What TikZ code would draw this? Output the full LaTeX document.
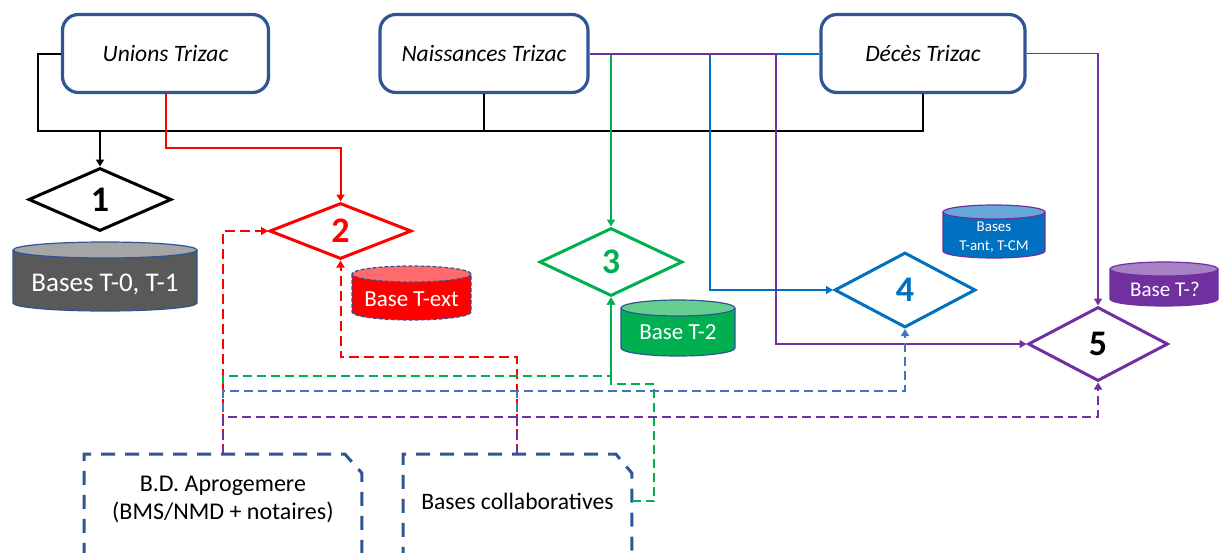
\documentclass[tikz,border=0pt]{standalone}
\usepackage{fontspec}
\setmainfont{Carlito}
\usetikzlibrary{arrows.meta,shapes.geometric}
\definecolor{boxblue}{HTML}{2F5597}
\definecolor{cgreen}{HTML}{00B050}
\definecolor{cblue}{HTML}{0070C0}
\definecolor{cblued}{HTML}{4472C4}
\definecolor{cpurple}{HTML}{7030A0}
\definecolor{cred}{HTML}{FF0000}
\definecolor{cgray}{HTML}{595959}
\definecolor{cgraytop}{HTML}{A5A5A5}
\definecolor{credtop}{HTML}{FF6B6B}
\definecolor{cgreentop}{HTML}{66CF8F}
\definecolor{cbluetop}{HTML}{66A8DA}
\definecolor{cpurpletop}{HTML}{A783C6}
\tikzset{
  topbox/.style={draw=boxblue, line width=1.6pt, rounded corners=8pt, fill=white,
    minimum height=39pt, font=\fontsize{11.75}{14}\selectfont\itshape},
  dia/.style={diamond, draw, line width=1.5pt, inner sep=0pt, fill=white,
    font=\fontsize{18}{20}\selectfont\bfseries},
  conn/.style={line width=1pt},
  tip/.style={-{Triangle[length=3.5pt,width=4pt]}},
  dsh/.style={line width=1pt, dash pattern=on 4.5pt off 2.5pt},
  cyltxt/.style={text=white, inner sep=0pt},
  bdash/.style={draw=boxblue, line width=1.5pt, dash pattern=on 7pt off 5pt},
  btxt/.style={inner sep=0pt, align=center, anchor=north west, font=\fontsize{12}{14}\selectfont}
}
\newcommand{\dbcyl}[8]{%
  \pgfmathsetmacro\cylrx{(#3-#1)/4}%
  \pgfmathsetmacro\cylry{#5/2}%
  \path[fill=#6,#8] (#1,#2+#5) -- (#1,#4-#5) arc[start angle=180,end angle=360,x radius=\cylrx pt,y radius=\cylry pt] -- (#3,#2+#5);
  \path[fill=#7,#8] ({(#1+#3)/2},#2+#5) ellipse[x radius=\cylrx pt,y radius=\cylry pt];
}
\begin{document}
\begin{tikzpicture}[x=0.5pt,y=-0.5pt]
\useasboundingbox (0,0) rectangle (1220,552);
\clip (0,0) rectangle (1220,552);

% top boxes
\node[topbox, minimum width=103pt] (unions) at (165.5,53.5) {Unions Trizac};
\node[topbox, minimum width=104pt] (naiss) at (484,53.5) {Naissances Trizac};
\node[topbox, minimum width=102pt] (deces) at (923,53.5) {Décès Trizac};

% diamonds
\node[dia, minimum width=71.5pt, minimum height=31.5pt] (d1) at (100,199.5) {1};
\node[dia, draw=cred, text=cred, minimum width=71pt, minimum height=28pt] (d2) at (340.5,231) {2};
\node[dia, draw=cgreen, text=cgreen, minimum width=71.5pt, minimum height=34pt] (d3) at (611,262) {3};
\node[dia, draw=cblue, text=cblue, minimum width=70.5pt, minimum height=37.5pt] (d4) at (905,290) {4};
\node[dia, draw=cpurple, text=black, minimum width=70pt, minimum height=37pt] (d5) at (1098,344) {5};

% cylinders
\dbcyl{13}{242}{197}{311}{8}{cgray}{cgraytop}{draw=boxblue,line width=0.6pt}
\node[cyltxt, font=\fontsize{13.5}{15}\selectfont] (t01) at (105,284) {Bases T-0, T-1};
\dbcyl{352}{266}{471}{320}{8}{cred}{credtop}{draw=boxblue,line width=0.6pt,dash pattern=on 2pt off 1pt}
\node[cyltxt, font=\fontsize{11.5}{14}\selectfont] (text) at (411.5,299) {Base T-ext};
\dbcyl{621}{300}{735}{356}{8}{cgreen}{cgreentop}{draw=boxblue,line width=0.6pt}
\node[cyltxt, font=\fontsize{11.5}{14}\selectfont] (t2) at (678,332) {Base T-2};
\dbcyl{943}{205}{1045}{258}{7}{cblue}{cbluetop}{draw=cpurple,line width=0.6pt}
\node[cyltxt, align=center, font=\fontsize{7.5}{9.5}\selectfont] (tant) at (994,237) {Bases\\T-ant, T-CM};
\dbcyl{1110}{262}{1218}{306}{7}{cpurple}{cpurpletop}{draw=cpurple,line width=0.6pt}
\node[cyltxt, font=\fontsize{10.5}{12}\selectfont] (tq) at (1165,289) {Base T-?};

% bottom boxes
\node[btxt, minimum width=138.5pt, minimum height=45pt] (apro) at (84,454) {B.D. Aprogemere\\(BMS/NMD + notaires)};
\node[btxt, minimum width=114pt, minimum height=47pt, font=\fontsize{11.8}{14}\selectfont] (collab) at (403,454) {Bases collaboratives};
\draw[bdash] ([yshift=-30pt]apro.south west) -- (apro.north west) -- ([xshift=-8.5pt]apro.north east) -- ([yshift=-9.5pt]apro.north east) -- ([yshift=-30pt]apro.south east);
\draw[bdash] ([yshift=-30pt]collab.south west) -- (collab.north west) -- ([xshift=-8pt]collab.north east) -- ([yshift=-9.5pt]collab.north east) -- ([yshift=-30pt]collab.south east);

% coordinates
\coordinate (busL) at (38,131);
\coordinate (busR) at (923,131);
\coordinate (r1) at (340.5,148);
\coordinate (b1) at (710,53.5);
\coordinate (p1) at (776,53.5);
\coordinate (rr) at (340.5,357);
\coordinate (g1) at (611,376);
\coordinate (g2) at (654,384);
\coordinate (b2) at (905,391);
\coordinate (p2) at (1098,417);

% black connectors
\draw[conn] (unions.west) -| (busL) -- (busR) -- (deces.south);
\draw[conn] (naiss.south) -- (naiss.south |- busL);
\draw[conn, tip] (d1.north |- busL) -- (d1.north);

% red solid
\draw[conn, draw=cred, tip] (unions.south) |- (r1) -- (d2.north);

% blue, green, purple solid
\draw[conn, draw=cblue, tip] (deces.west) -- (b1) |- (d4.west);
\draw[conn, draw=cgreen, tip] (d3.north |- naiss.east) -- (d3.north);
\draw[conn, draw=cpurple, tip] (naiss.east) -- (p1) |- (d5.west);
\draw[line width=0.8pt, draw=cpurple, tip] (deces.east) -| (d5.north);

% dashed connectors
\draw[dsh, draw=cred, tip, dash pattern=on 5pt off 2.5pt] (apro.north) |- (d2.west);
\draw[dsh, draw=cred, tip, dash pattern=on 5pt off 2.5pt] (collab.north) |- (rr) -- (d2.south);
\draw[dsh, draw=cgreen, tip] (apro.north) |- (g1) -- (d3.south);
\draw[dsh, draw=cgreen, tip] (collab.east) -| (g2) -| (d3.south);
\draw[dsh, draw=cblued, tip] (apro.north) |- (b2) -- (d4.south);
\draw[dsh, draw=cblued] (collab.north) -- (collab.north |- b2);
\draw[dsh, draw=cpurple, tip] (apro.north) |- (p2) -- (d5.south);
\draw[dsh, draw=cpurple] (collab.north) -- (collab.north |- p2);
\end{tikzpicture}
\end{document}
